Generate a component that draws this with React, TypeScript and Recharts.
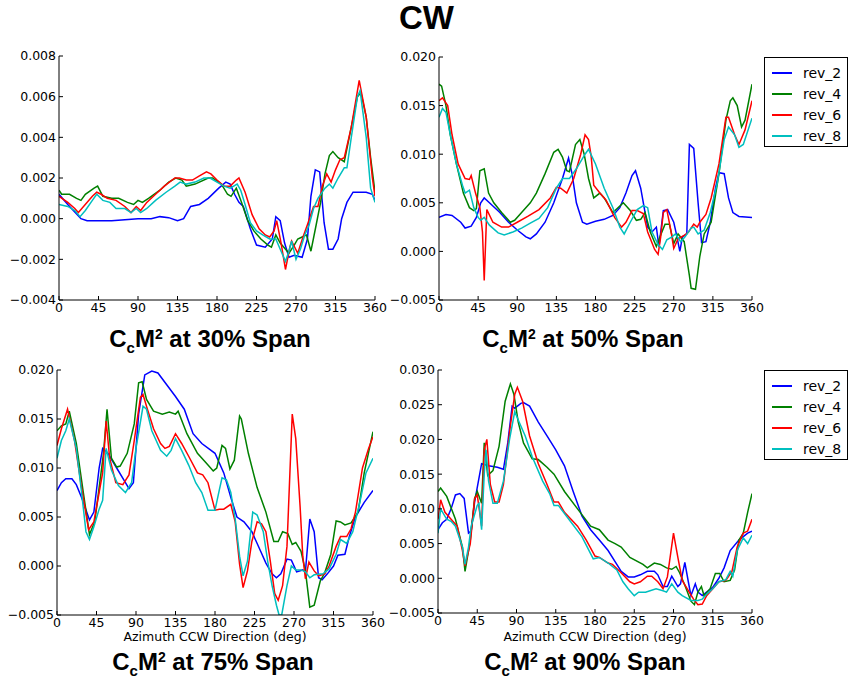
import React from 'react';
import { LineChart, Line, XAxis, YAxis } from 'recharts';

// ---- data: [azimuth deg, value] pairs ----

const AZ_TICKS = [0, 45, 90, 135, 180, 225, 270, 315, 360];
const REVS = ['rev_2', 'rev_4', 'rev_6', 'rev_8'];
const REV_COLORS = ['#0000ff', '#008000', '#ff0000', '#00bfbf'];

// 30% span
const s30_rev2 = [[0,0.0012],[10,0.0007],[25,0],[32,-0.0001],[60,-0.0001],[90,0],[105,0],[115,0.0001],[125,0.00005],[135,-0.0001],[142,0],[150,0.0006],[160,0.0007],[170,0.001],[182,0.0015],[190,0.0018],[195,0.0017],[200,0.0012],[205,0.0008],[210,0.0006],[218,-0.0005],[225,-0.0013],[235,-0.0014],[243,-0.001],[247,0.0001],[252,-0.0001],[257,-0.0012],[262,-0.0019],[268,-0.0018],[277,-0.0019],[283,-0.001],[287,0.0011],[292,0.0024],[297,0.0023],[302,-0.0002],[307,-0.0015],[312,-0.0015],[318,-0.001],[322,0],[328,0.0008],[335,0.0013],[350,0.0013],[357,0.0012],[360,0.0009]];
const s30_rev4 = [[0,0.0014],[3,0.0012],[12,0.0012],[20,0.001],[25,0.0009],[30,0.0012],[40,0.0015],[44,0.0016],[50,0.0011],[60,0.001],[68,0.001],[78,0.0008],[85,0.0007],[90,0.0009],[95,0.0008],[102,0.001],[115,0.0014],[125,0.0018],[133,0.002],[140,0.0019],[145,0.0016],[155,0.0017],[170,0.002],[175,0.002],[185,0.0017],[192,0.0012],[196,0.0011],[202,0.0015],[208,0.0008],[215,-0.0001],[222,-0.0006],[230,-0.001],[238,-0.0013],[242,-0.0014],[247,-0.0008],[252,-0.0012],[262,-0.0017],[268,-0.0013],[272,-0.001],[277,-0.0009],[282,-0.0008],[287,-0.0016],[293,-0.0003],[298,0.0008],[303,0.0022],[308,0.0031],[312,0.0033],[318,0.003],[325,0.0028],[333,0.0045],[340,0.006],[344,0.0062],[350,0.005],[355,0.003],[360,0.0013]];
const s30_rev6 = [[0,0.0011],[10,0.0008],[18,0.0005],[22,0.0003],[26,0.0005],[38,0.0011],[43,0.0013],[48,0.0012],[55,0.001],[65,0.0009],[75,0.0006],[82,0.0003],[88,0.0006],[93,0.0004],[100,0.0008],[110,0.0012],[120,0.0016],[132,0.002],[137,0.002],[145,0.0019],[152,0.0019],[160,0.0021],[168,0.0023],[173,0.0022],[180,0.0019],[188,0.0016],[195,0.0016],[202,0.0019],[205,0.002],[212,0.0013],[220,0.0002],[228,-0.0005],[235,-0.0008],[240,-0.0009],[245,-0.0006],[248,-0.0001],[253,-0.0012],[258,-0.0025],[263,-0.0014],[265,-0.0011],[272,-0.0017],[278,-0.0009],[283,-0.0003],[290,0.0006],[295,0.0006],[300,0.0016],[305,0.0022],[310,0.0018],[315,0.0024],[320,0.0029],[325,0.003],[333,0.0045],[342,0.0068],[350,0.005],[357,0.002],[360,0.0011]];
const s30_rev8 = [[0,0.0007],[10,0.0006],[18,0.0004],[24,0.0001],[30,0.0004],[38,0.0009],[43,0.0012],[50,0.0009],[58,0.0008],[65,0.0005],[75,0.0005],[82,0.0003],[88,0.0005],[93,0.0003],[100,0.0005],[110,0.0009],[122,0.0013],[132,0.0016],[138,0.0018],[145,0.0017],[155,0.0018],[165,0.002],[172,0.002],[180,0.0018],[188,0.0016],[195,0.0015],[203,0.0017],[207,0.0014],[212,0.0007],[218,-0.0002],[225,-0.0006],[232,-0.0008],[240,-0.001],[247,-0.001],[253,-0.0016],[258,-0.0021],[262,-0.0016],[265,-0.0011],[270,-0.002],[275,-0.0015],[280,-0.0008],[285,-0.0003],[290,0.0005],[295,0.001],[303,0.0015],[308,0.0017],[312,0.0015],[318,0.002],[325,0.0025],[328,0.0025],[333,0.004],[340,0.006],[343,0.0063],[350,0.004],[355,0.0015],[360,0.0008]];

// 50% span
const s50_rev2 = [[0,0.0035],[8,0.0038],[15,0.0037],[25,0.003],[30,0.0024],[37,0.0026],[43,0.0035],[48,0.005],[52,0.0055],[58,0.005],[70,0.004],[80,0.003],[90,0.0022],[100,0.0015],[105,0.0013],[112,0.0018],[122,0.003],[132,0.005],[142,0.0075],[149,0.0096],[153,0.008],[158,0.005],[165,0.003],[170,0.0028],[180,0.0031],[190,0.0033],[200,0.0037],[208,0.0045],[215,0.006],[222,0.0078],[226,0.0083],[232,0.0065],[240,0.0025],[245,0.002],[250,0.0025],[253,0.0005],[258,0.0042],[263,0.0043],[270,0.003],[273,0.0018],[277,0],[280,0.0015],[285,0.0018],[288,0.011],[293,0.0106],[298,0.005],[302,0.0009],[307,0.001],[312,0.003],[318,0.0065],[322,0.0081],[328,0.008],[333,0.0055],[338,0.004],[345,0.0036],[360,0.0035]];
const s50_rev4 = [[0,0.0172],[3,0.017],[8,0.015],[13,0.012],[20,0.009],[28,0.006],[35,0.0045],[40,0.0042],[43,0.0044],[47,0.0083],[52,0.0085],[57,0.006],[63,0.005],[72,0.004],[82,0.003],[87,0.0032],[95,0.004],[105,0.005],[112,0.006],[122,0.008],[132,0.0102],[137,0.0105],[142,0.0097],[147,0.0083],[150,0.0082],[157,0.011],[162,0.0115],[167,0.01],[172,0.0075],[178,0.0055],[185,0.006],[190,0.0055],[200,0.004],[212,0.005],[220,0.0042],[227,0.0032],[232,0.0033],[237,0.004],[243,0.002],[250,0.0005],[255,0.0017],[260,0.0028],[265,0.0028],[270,0.0008],[275,0.0018],[282,0.001],[288,-0.0025],[290,-0.0038],[295,-0.0039],[300,-0.0005],[305,0.0018],[313,0.003],[322,0.008],[330,0.0135],[335,0.0155],[338,0.0158],[343,0.015],[348,0.0128],[352,0.0135],[360,0.0172]];
const s50_rev6 = [[0,0.0155],[4,0.0158],[10,0.015],[15,0.012],[22,0.009],[30,0.0075],[35,0.0074],[37,0.0078],[42,0.006],[47,0.0045],[50,0.002],[52,-0.003],[55,0.0043],[62,0.003],[72,0.0025],[80,0.0025],[90,0.003],[102,0.0036],[115,0.0043],[128,0.0055],[135,0.0066],[140,0.0065],[147,0.006],[155,0.0075],[163,0.01],[168,0.012],[172,0.0115],[175,0.0098],[178,0.0068],[185,0.006],[192,0.0053],[202,0.0035],[210,0.0025],[215,0.003],[222,0.0042],[228,0.0042],[235,0.0039],[240,0.002],[248,0.0002],[252,-0.0003],[255,0.0015],[258,0.004],[262,0.0043],[267,0.002],[270,0.0003],[275,0.0013],[283,0.0017],[287,0.002],[293,0.0028],[297,0.0025],[300,0.003],[307,0.0038],[313,0.0055],[322,0.009],[330,0.0138],[333,0.0138],[340,0.012],[345,0.011],[352,0.0125],[360,0.0155]];
const s50_rev8 = [[0,0.0138],[4,0.0147],[8,0.0143],[13,0.012],[20,0.009],[27,0.0068],[30,0.006],[35,0.0063],[40,0.0045],[45,0.0035],[48,0.0032],[52,0.0035],[58,0.0027],[68,0.0019],[75,0.0017],[85,0.002],[95,0.0024],[105,0.0029],[115,0.0034],[125,0.0045],[135,0.0065],[142,0.0075],[150,0.0075],[158,0.0085],[168,0.01],[172,0.0105],[180,0.009],[190,0.0065],[200,0.0045],[208,0.0025],[213,0.0018],[220,0.003],[228,0.0043],[235,0.0047],[240,0.0045],[245,0.002],[252,0.0007],[257,0.0002],[262,0.0012],[268,0.0015],[272,0.0018],[278,0.001],[283,0.0015],[290,0.0024],[293,0.0025],[298,0.0018],[305,0.0022],[312,0.004],[320,0.007],[328,0.0115],[333,0.0128],[340,0.012],[345,0.0107],[350,0.011],[360,0.0137]];

// 75% span
const s75_rev2 = [[0,0.0077],[5,0.0085],[10,0.0089],[17,0.0089],[22,0.0083],[28,0.007],[37,0.0047],[42,0.0055],[48,0.01],[52,0.012],[58,0.0115],[68,0.01],[78,0.0085],[82,0.0079],[87,0.0085],[93,0.0155],[100,0.0195],[108,0.0199],[115,0.0197],[125,0.0185],[135,0.0173],[145,0.016],[155,0.0135],[165,0.0125],[180,0.0115],[190,0.0095],[198,0.007],[205,0.005],[213,0.0045],[222,0.0035],[232,0.0015],[238,0.0003],[245,-0.0008],[250,-0.0012],[255,-0.0008],[262,0.0007],[267,0.0006],[273,-0.0006],[280,-0.0004],[283,-0.0006],[288,0.0048],[293,0.0035],[298,-0.0012],[302,-0.0014],[308,-0.0008],[315,0],[320,0.0011],[328,0.0012],[333,0.003],[340,0.005],[350,0.0065],[360,0.0077]];
const s75_rev4 = [[0,0.0138],[5,0.0143],[10,0.0145],[14,0.0158],[22,0.0125],[30,0.0075],[37,0.0032],[43,0.0045],[48,0.008],[53,0.0115],[57,0.016],[62,0.011],[68,0.0101],[72,0.0102],[80,0.0115],[88,0.0145],[93,0.0187],[97,0.0188],[102,0.017],[110,0.0158],[120,0.0155],[128,0.0157],[135,0.0155],[138,0.0158],[148,0.0135],[160,0.0115],[170,0.0105],[178,0.0097],[182,0.01],[188,0.0123],[192,0.012],[197,0.0099],[202,0.0108],[208,0.0153],[210,0.015],[218,0.0115],[228,0.008],[238,0.0055],[247,0.0025],[252,0.0025],[257,0.0035],[263,0.0033],[268,0.0022],[272,0.0024],[278,0.0015],[283,-0.0005],[288,-0.0042],[293,-0.004],[300,-0.0015],[305,-0.0007],[312,0.0012],[318,0.0046],[323,0.0045],[328,0.0042],[335,0.0044],[343,0.0055],[350,0.0095],[360,0.0137]];
const s75_rev6 = [[0,0.0123],[5,0.014],[12,0.016],[20,0.0128],[28,0.008],[36,0.0037],[42,0.0045],[48,0.0075],[52,0.0095],[56,0.0148],[60,0.011],[67,0.0085],[75,0.0083],[82,0.0093],[88,0.0128],[95,0.0172],[98,0.0175],[103,0.016],[110,0.014],[118,0.0125],[123,0.012],[128,0.0122],[135,0.0135],[142,0.0125],[150,0.0112],[160,0.0095],[166,0.0093],[172,0.0085],[180,0.0057],[185,0.0058],[190,0.0058],[198,0.0063],[203,0.0045],[208,0.0002],[212,-0.0022],[217,-0.0005],[222,0.0025],[228,0.0045],[233,0.0043],[238,0.0035],[243,0.0005],[248,-0.0028],[252,-0.0035],[257,-0.002],[262,0.002],[268,0.0155],[272,0.013],[277,0.006],[280,0.001],[283,-0.0013],[287,0.0004],[293,-0.0005],[298,-0.001],[305,-0.0008],[310,0],[318,0.002],[323,0.003],[330,0.003],[335,0.0038],[340,0.0055],[348,0.01],[355,0.012],[360,0.0132]];
const s75_rev8 = [[0,0.011],[5,0.0128],[10,0.0138],[14,0.015],[22,0.012],[28,0.0075],[33,0.0035],[37,0.0027],[42,0.004],[48,0.0058],[52,0.0067],[56,0.012],[62,0.0098],[70,0.0082],[78,0.0075],[85,0.0085],[90,0.012],[98,0.0163],[102,0.016],[108,0.0138],[118,0.0118],[125,0.0112],[130,0.0118],[135,0.013],[142,0.0118],[150,0.0103],[158,0.0085],[165,0.0075],[172,0.0057],[180,0.0057],[185,0.0078],[188,0.009],[193,0.0088],[198,0.0075],[203,0.0048],[208,0.001],[212,-0.001],[217,0.0005],[223,0.0055],[228,0.0052],[235,0.0035],[240,0.0005],[245,-0.002],[250,-0.004],[253,-0.005],[256,-0.005],[262,-0.002],[267,0],[272,-0.0004],[278,-0.0004],[283,-0.0006],[288,-0.0012],[293,-0.0009],[303,-0.0008],[310,-0.0003],[318,0.0012],[323,0.0027],[330,0.0023],[337,0.0035],[345,0.0065],[352,0.0095],[360,0.011]];

// 90% span
const s90_rev2 = [[0,0.007],[5,0.008],[10,0.0085],[15,0.01],[20,0.012],[25,0.0122],[30,0.0115],[35,0.0065],[38,0.0068],[42,0.011],[50,0.0165],[58,0.0162],[68,0.016],[75,0.0157],[80,0.0195],[85,0.0248],[88,0.0245],[95,0.0252],[98,0.0253],[105,0.0248],[115,0.0225],[125,0.0205],[135,0.0185],[145,0.0162],[155,0.0125],[165,0.009],[175,0.007],[185,0.0055],[195,0.004],[205,0.002],[210,0.001],[218,0.0002],[225,0.0002],[232,0.0005],[240,0.001],[248,0.001],[252,0.0005],[258,-0.0012],[263,-0.0012],[268,0.0003],[275,-0.0012],[278,-0.0008],[283,0.0023],[287,-0.0005],[290,-0.0025],[295,-0.0008],[298,-0.002],[303,-0.0025],[308,-0.002],[315,-0.0013],[322,0],[328,0.0015],[335,0.004],[345,0.0055],[355,0.0065],[360,0.0068]];
const s90_rev4 = [[0,0.0125],[3,0.013],[10,0.0118],[20,0.0085],[28,0.0045],[31,0.001],[37,0.0055],[42,0.0115],[45,0.0125],[50,0.0108],[53,0.0195],[57,0.0148],[63,0.0155],[70,0.019],[77,0.0255],[83,0.028],[87,0.0265],[92,0.0225],[98,0.0195],[108,0.0172],[115,0.0171],[125,0.016],[133,0.015],[145,0.0125],[160,0.01],[175,0.0075],[185,0.007],[195,0.0055],[203,0.005],[210,0.0045],[220,0.003],[235,0.002],[240,0.0015],[248,0.0022],[255,0.002],[262,0.0015],[268,0.0013],[273,0.0017],[277,0.0008],[283,-0.001],[290,-0.0033],[294,-0.0038],[298,-0.002],[302,-0.0012],[305,-0.0025],[312,-0.0015],[318,0.0007],[323,0.0007],[328,-0.0005],[335,-0.0003],[340,0.0012],[345,0.0055],[350,0.0065],[355,0.0095],[360,0.0122]];
const s90_rev6 = [[0,0.0085],[3,0.0113],[8,0.0095],[15,0.0085],[22,0.0075],[28,0.004],[31,0.0018],[37,0.005],[42,0.0115],[45,0.012],[50,0.0075],[53,0.0185],[56,0.02],[60,0.0135],[65,0.011],[70,0.011],[75,0.0135],[83,0.022],[88,0.0265],[91,0.0275],[97,0.0255],[105,0.0205],[115,0.0165],[125,0.0135],[133,0.011],[138,0.011],[145,0.0095],[160,0.0075],[170,0.0055],[180,0.0032],[185,0.003],[195,0.0022],[200,0.002],[210,0.0008],[220,-0.0005],[225,-0.0008],[232,-0.0005],[240,0.0003],[245,0.0003],[252,-0.0005],[258,-0.0015],[263,0.0002],[270,0.0065],[275,0.003],[280,-0.0003],[288,-0.002],[293,-0.003],[298,-0.0038],[303,-0.0037],[308,-0.0025],[315,-0.0015],[322,-0.0005],[330,-0.0003],[337,0.001],[343,0.0045],[350,0.0065],[355,0.0068],[360,0.0085]];
const s90_rev8 = [[0,0.0065],[3,0.01],[10,0.0085],[15,0.0082],[20,0.0075],[28,0.0045],[31,0.002],[35,0.0045],[38,0.0075],[45,0.0105],[47,0.0108],[50,0.007],[53,0.015],[55,0.0185],[58,0.014],[63,0.0108],[68,0.0108],[75,0.014],[82,0.02],[88,0.024],[93,0.0225],[100,0.0205],[108,0.0175],[120,0.014],[128,0.0122],[133,0.0105],[138,0.0105],[150,0.0085],[165,0.006],[178,0.0028],[185,0.003],[195,0.0022],[205,0.0012],[212,-0.0005],[218,-0.0015],[225,-0.0025],[230,-0.002],[238,-0.002],[250,-0.0015],[258,-0.0018],[262,-0.002],[268,-0.0008],[275,-0.002],[280,-0.0025],[290,-0.0032],[298,-0.0032],[303,-0.003],[308,-0.0023],[315,-0.0015],[322,-0.0005],[330,-0.0002],[335,0.001],[338,0.0003],[343,0.004],[350,0.0058],[355,0.005],[360,0.0062]];

const TICKS_30 = [-0.004, -0.002, 0, 0.002, 0.004, 0.006, 0.008];
const TICKS_50 = [-0.005, 0, 0.005, 0.01, 0.015, 0.02];
const TICKS_90 = [-0.005, 0, 0.005, 0.01, 0.015, 0.02, 0.025, 0.03];

const toPts = (arr: number[][]) => arr.map(([az, v]) => ({ az, v }));
const fmt = (v: number) => (v < 0 ? '\u2212' : '') + Math.abs(v).toFixed(3);

const tickFont = { fontFamily: 'DejaVu Sans', fontSize: 12.5, fill: '#000' };

interface PanelProps {
  left: number;
  top: number;
  width: number;
  height: number;
  marginTop: number;
  yw: number;
  ticks: number[];
  series: number[][][];
}

function Panel({ left, top, width, height, marginTop, yw, ticks, series }: PanelProps) {
  const domain = [ticks[0], ticks[ticks.length - 1]];
  return (
    <div style={{ position: 'absolute', left, top }}>
      <LineChart width={width} height={height} margin={{ top: marginTop, right: 15, bottom: 0, left: 0 }}>
        <XAxis
          xAxisId="b"
          dataKey="az"
          type="number"
          domain={[0, 360]}
          ticks={AZ_TICKS}
          allowDataOverflow
          height={20}
          tickSize={-4}
          tickMargin={7}
          stroke="#000"
          tick={tickFont}
          interval={0}
        />
        <XAxis
          xAxisId="t"
          orientation="top"
          dataKey="az"
          type="number"
          domain={[0, 360]}
          ticks={AZ_TICKS}
          height={0}
          tickSize={-4}
          stroke="#000"
          tick={() => <g />}
          interval={0}
        />
        <YAxis
          yAxisId="l"
          type="number"
          domain={domain}
          ticks={ticks}
          allowDataOverflow
          width={yw}
          tickSize={-4}
          tickMargin={7}
          stroke="#000"
          tick={tickFont}
          tickFormatter={fmt}
          interval={0}
        />
        <YAxis
          yAxisId="r"
          orientation="right"
          type="number"
          domain={domain}
          ticks={ticks}
          allowDataOverflow
          width={0}
          tickSize={-4}
          stroke="#000"
          tick={() => <g />}
          interval={0}
        />
        {series.map((s, i) => (
          <Line
            key={REVS[i]}
            xAxisId="b"
            yAxisId="l"
            data={toPts(s)}
            dataKey="v"
            type="linear"
            stroke={REV_COLORS[i]}
            strokeWidth={1.5}
            dot={false}
            isAnimationActive={false}
          />
        ))}
      </LineChart>
    </div>
  );
}

function Legend({ left, top }: { left: number; top: number }) {
  return (
    <div
      style={{
        position: 'absolute',
        left,
        top,
        width: 84,
        height: 90,
        border: '1px solid #000',
        boxSizing: 'border-box',
        background: '#fff',
      }}
    >
      {REVS.map((r, i) => (
        <div key={r} style={{ position: 'absolute', left: 7, top: 5 + i * 21, height: 20, display: 'flex', alignItems: 'center' }}>
          <div style={{ width: 20, height: 2, background: REV_COLORS[i] }} />
          <span style={{ marginLeft: 11, fontFamily: 'DejaVu Sans', fontSize: 14, color: '#000' }}>{r}</span>
        </div>
      ))}
    </div>
  );
}

function Subtitle({ cx, top, span }: { cx: number; top: number; span: string }) {
  return (
    <div
      style={{
        position: 'absolute',
        left: cx - 150,
        top,
        width: 300,
        textAlign: 'center',
        fontFamily: "'Liberation Sans', Arial, sans-serif",
        fontWeight: 'bold',
        fontSize: 24,
        lineHeight: '28px',
        color: '#000',
        whiteSpace: 'nowrap',
      }}
    >
      C<span style={{ fontSize: 15, position: 'relative', top: 6 }}>c</span>M
      <span style={{ fontSize: 14, position: 'relative', top: -8 }}>2</span> at {span}% Span
    </div>
  );
}

function AxisLabel({ cx, top }: { cx: number; top: number }) {
  return (
    <div
      style={{
        position: 'absolute',
        left: cx - 120,
        top,
        width: 240,
        textAlign: 'center',
        fontFamily: 'DejaVu Sans',
        fontSize: 12.5,
        lineHeight: '14px',
        color: '#000',
      }}
    >
      Azimuth CCW Direction (deg)
    </div>
  );
}

export default function App() {
  return (
    <div style={{ position: 'absolute', left: 0, top: 0, width: 853, height: 681, background: '#fff', overflow: 'hidden' }}>
      <div
        style={{
          position: 'absolute',
          left: 0,
          top: -1,
          width: 853,
          textAlign: 'center',
          fontFamily: "'Liberation Sans', Arial, sans-serif",
          fontWeight: 'bold',
          fontSize: 33,
          color: '#000',
        }}
      >
        CW
      </div>

      <Panel left={0} top={40} width={390} height={280} marginTop={16} yw={59} ticks={TICKS_30} series={[s30_rev2, s30_rev4, s30_rev6, s30_rev8]} />
      <Panel left={380} top={40} width={387} height={280} marginTop={17} yw={59} ticks={TICKS_50} series={[s50_rev2, s50_rev4, s50_rev6, s50_rev8]} />
      <Panel left={0} top={350} width={388} height={285} marginTop={20} yw={57} ticks={TICKS_50} series={[s75_rev2, s75_rev4, s75_rev6, s75_rev8]} />
      <Panel left={380} top={350} width={387} height={283} marginTop={20} yw={58} ticks={TICKS_90} series={[s90_rev2, s90_rev4, s90_rev6, s90_rev8]} />

      <Legend left={764} top={57} />
      <Legend left={764} top={370} />

      <Subtitle cx={210} top={325} span="30" />
      <Subtitle cx={583} top={325} span="50" />
      <Subtitle cx={213} top={648} span="75" />
      <Subtitle cx={585} top={648} span="90" />

      <AxisLabel cx={215} top={630} />
      <AxisLabel cx={595} top={630} />
    </div>
  );
}
